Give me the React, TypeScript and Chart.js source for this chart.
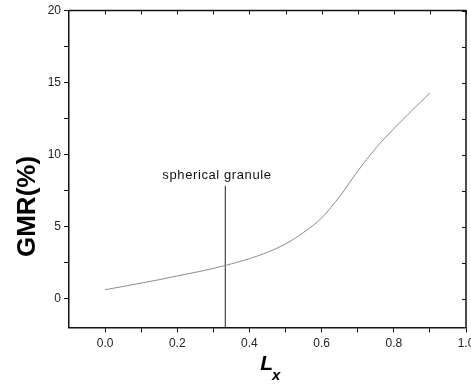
import React, { useEffect, useRef } from "react";
import { Chart, registerables } from "chart.js";

Chart.register(...registerables);

const lxValues = [0, 0.05, 0.1, 0.15, 0.2, 0.25, 0.3, 0.35, 0.4, 0.45, 0.5, 0.55, 0.6, 0.65, 0.7, 0.75, 0.8, 0.85, 0.9];
const gmrValues = [0.62, 0.85, 1.08, 1.32, 1.58, 1.83, 2.1, 2.42, 2.78, 3.22, 3.8, 4.6, 5.6, 7.1, 8.85, 10.45, 11.8, 13.05, 14.28];
const granuleX = 0.333;
const granuleTopY = 7.83;
const granuleLabel = "spherical granule";
const xTickValues = [0, 0.1, 0.2, 0.3, 0.4, 0.5, 0.6, 0.7, 0.8, 0.9, 1.0];
const xTickLabels = ["0.0", "", "0.2", "", "0.4", "", "0.6", "", "0.8", "", "1.0"];
const yTickValues = [0, 2.5, 5, 7.5, 10, 12.5, 15, 17.5, 20];
const yTickLabels = ["0", "", "5", "", "10", "", "15", "", "20"];
const yTitle = "GMR(%)";
const xTitleMain = "L";
const xTitleSub = "x";

const FONT = "'Liberation Sans', Arial, sans-serif";

const framePlugin = {
  id: "frameAndText",
  afterDraw(chart: any) {
    const { ctx, chartArea } = chart;
    const xs = chart.scales.x;
    const ys = chart.scales.y;
    const { left, right, top, bottom } = chartArea;
    ctx.save();
    ctx.strokeStyle = "#111";
    ctx.lineWidth = 1.5;
    ctx.beginPath();
    ctx.moveTo(left, top);
    ctx.lineTo(right, top);
    ctx.lineTo(right, bottom);
    ctx.stroke();
    ctx.lineWidth = 1;
    ctx.beginPath();
    xTickValues.forEach((v) => {
      const px = Math.round(xs.getPixelForValue(v)) + 0.5;
      ctx.moveTo(px, top);
      ctx.lineTo(px, top + 4);
    });
    yTickValues.forEach((v) => {
      const py = Math.round(ys.getPixelForValue(v)) + 0.5;
      ctx.moveTo(right, py);
      ctx.lineTo(right - 4, py);
    });
    ctx.stroke();

    // annotation label
    ctx.save();
    ctx.fillStyle = "#111";
    ctx.font = `13px ${FONT}`;
    (ctx as any).letterSpacing = "0.6px";
    ctx.textAlign = "center";
    ctx.textBaseline = "alphabetic";
    ctx.fillText(granuleLabel, xs.getPixelForValue(0.31), ys.getPixelForValue(granuleTopY) - 6.5);
    ctx.restore();

    // y title
    ctx.save();
    ctx.translate(35, ys.getPixelForValue(6.4));
    ctx.rotate(-Math.PI / 2);
    ctx.font = `bold 26px ${FONT}`;
    ctx.textAlign = "center";
    ctx.textBaseline = "alphabetic";
    ctx.fillStyle = "#000";
    ctx.fillText(yTitle, 0, 0);
    ctx.restore();

    // x title
    ctx.fillStyle = "#000";
    ctx.font = `italic bold 21px ${FONT}`;
    ctx.textAlign = "left";
    ctx.textBaseline = "alphabetic";
    const startX = xs.getPixelForValue(0.43);
    const wL = ctx.measureText(xTitleMain).width;
    ctx.fillText(xTitleMain, startX, 370);
    ctx.font = `italic bold 15px ${FONT}`;
    ctx.fillText(xTitleSub, startX + wL - 1, 380);
    ctx.restore();
  },
};

export default function App() {
  const ref = useRef<HTMLCanvasElement>(null);
  useEffect(() => {
    document.body.style.margin = "0";
    const chart = new Chart(ref.current!, {
      type: "line",
      data: {
        datasets: [
          {
            data: lxValues.map((x, i) => ({ x, y: gmrValues[i] })),
            borderColor: "#8a8a8a",
            borderWidth: 1,
            pointRadius: 0,
            tension: 0.3,
            fill: false,
          },
          {
            data: [
              { x: granuleX, y: -2 },
              { x: granuleX, y: granuleTopY },
            ],
            borderColor: "#222",
            borderWidth: 1,
            pointRadius: 0,
            tension: 0,
            fill: false,
          },
        ],
      },
      options: {
        animation: false,
        responsive: false,
        layout: { padding: { top: 10.5, right: 5, left: 0, bottom: 0 } },
        plugins: { legend: { display: false }, tooltip: { enabled: false } },
        scales: {
          x: {
            type: "linear",
            min: -0.1,
            max: 1.0,
            afterFit: (s: any) => {
              s.height = 57.5;
              s.paddingLeft = 0;
              s.paddingRight = 0;
            },
            afterBuildTicks: (s: any) => {
              s.ticks = xTickValues.map((v) => ({ value: v }));
            },
            ticks: {
              autoSkip: false,
              maxRotation: 0,
              padding: 4,
              color: "#222",
              font: { family: FONT, size: 12 },
              callback: (_v: any, i: number) => xTickLabels[i],
            },
            grid: {
              drawOnChartArea: false,
              drawTicks: true,
              tickLength: 5,
              color: "#111",
            },
            border: { display: true, color: "#111", width: 1.5 },
          },
          y: {
            type: "linear",
            min: -2,
            max: 20,
            afterFit: (s: any) => {
              s.width = 69;
              s.paddingTop = 0;
              s.paddingBottom = 0;
            },
            afterBuildTicks: (s: any) => {
              s.ticks = yTickValues.map((v) => ({ value: v }));
            },
            ticks: {
              autoSkip: false,
              padding: 3,
              color: "#222",
              font: { family: FONT, size: 12 },
              callback: (_v: any, i: number) => yTickLabels[i],
            },
            grid: {
              drawOnChartArea: false,
              drawTicks: true,
              tickLength: 5,
              color: "#111",
            },
            border: { display: true, color: "#111", width: 1.5 },
          },
        },
      } as any,
      plugins: [framePlugin],
    });
    return () => chart.destroy();
  }, []);
  return (
    <div style={{ position: "absolute", left: 0, top: 0, width: 471, height: 385, background: "#fff" }}>
      <canvas ref={ref} width={471} height={385} style={{ width: 471, height: 385, display: "block" }} />
    </div>
  );
}
